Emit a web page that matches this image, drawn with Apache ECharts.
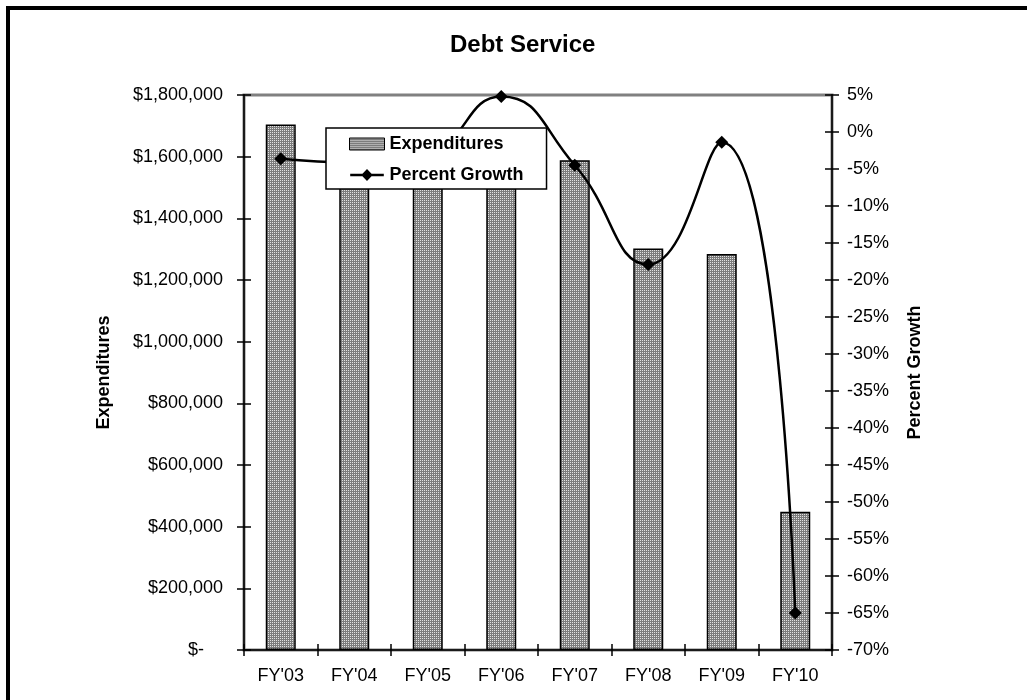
<!DOCTYPE html>
<html>
<head>
<meta charset="utf-8">
<script src="https://cdn.jsdelivr.net/npm/echarts@6/dist/echarts.min.js"></script>
<style>
html,body{margin:0;padding:0;background:#fff;}
#chart{width:1027px;height:700px;}
</style>
</head>
<body>
<div id="chart"></div>
<script>
const categories = ["FY'03", "FY'04", "FY'05", "FY'06", "FY'07", "FY'08", "FY'09", "FY'10"];
const expenditures = [1704000, 1634000, 1587000, 1663000, 1588000, 1302000, 1284000, 448000];
const percentGrowth = [-3.6, -4.1, -2.9, 4.8, -4.5, -17.9, -1.4, -65.0];
const leftAxisRange = [0, 1800000, 200000];
const rightAxisRange = [-70, 5, 5];

const FONT = "'Liberation Sans', Arial, sans-serif";

function makePattern() {
  const c = document.createElement('canvas');
  c.width = 2; c.height = 2;
  const g = c.getContext('2d');
  g.fillStyle = '#7c7c7c';
  g.fillRect(0, 0, 2, 2);
  g.fillStyle = '#e2e2e2';
  g.fillRect(0, 0, 1, 1);
  return c;
}
const pattern = { image: makePattern(), repeat: 'repeat' };

function moneyFmt(v) {
  if (v === 0) return '{z|$-}';
  return '$' + v.toLocaleString('en-US');
}

const chart = echarts.init(document.getElementById('chart'), null, { renderer: 'canvas' });

const tickStyle = { color: '#000', width: 1.5 };
const hiddenLine = { show: true, onZero: false, lineStyle: { color: 'rgba(0,0,0,0)', width: 1 } };
const lineIcon = 'path://M0 5L35 5L35 7.5L0 7.5Z M17.5 0L23.5 6.25L17.5 12.5L11.5 6.25Z';

const option = {
  backgroundColor: '#fff',
  animation: false,
  textStyle: { fontFamily: FONT },
  title: {
    text: 'Debt Service',
    left: 445,
    top: 28,
    textStyle: { fontSize: 24, fontWeight: 'bold', color: '#000', fontFamily: FONT }
  },
  graphic: [{
    type: 'rect',
    shape: { x: 8, y: 8, width: 1100, height: 800 },
    style: { fill: 'none', stroke: '#000', lineWidth: 4 },
    z: 100
  }],
  grid: {
    left: 244, right: 195, top: 95, bottom: 50,
    show: true, borderColor: '#808080', borderWidth: 3, backgroundColor: '#fff'
  },
  legend: {
    data: [
      { name: 'Expenditures', icon: 'rect', itemStyle: { color: pattern, borderColor: '#000', borderWidth: 1 } },
      { name: 'Percent Growth', icon: lineIcon, itemStyle: { color: '#000', borderWidth: 0 } }
    ],
    orient: 'vertical',
    left: 326, top: 128,
    itemWidth: 35, itemHeight: 12, itemGap: 11,
    backgroundColor: '#fff', borderColor: '#000', borderWidth: 1.5,
    padding: [6, 23, 4, 23],
    textStyle: { fontSize: 18, fontWeight: 'bold', color: '#000', fontFamily: FONT, lineHeight: 20 }
  },
  xAxis: [{
    type: 'category', data: categories, position: 'bottom',
    axisLine: { onZero: false, lineStyle: { color: '#1a1a1a', width: 2 } },
    axisTick: { show: true, length: 6, lineStyle: tickStyle },
    axisLabel: { margin: 17, fontSize: 18, color: '#000', fontFamily: FONT },
    splitLine: { show: false }
  }, {
    type: 'category', data: categories, position: 'bottom', offset: -6,
    axisLine: hiddenLine,
    axisTick: { show: true, length: 6, lineStyle: tickStyle },
    axisLabel: { show: false },
    splitLine: { show: false }
  }],
  yAxis: [{
    type: 'value', position: 'left',
    min: leftAxisRange[0], max: leftAxisRange[1], interval: leftAxisRange[2],
    name: 'Expenditures', nameLocation: 'middle', nameRotate: 90, nameGap: 131,
    nameTextStyle: { fontSize: 18, fontWeight: 'bold', color: '#000', fontFamily: FONT },
    axisLine: { show: true, onZero: false, lineStyle: { color: '#1a1a1a', width: 2 } },
    axisTick: { show: true, length: 7, lineStyle: tickStyle },
    axisLabel: {
      margin: 21, fontSize: 18, color: '#000', fontFamily: FONT, formatter: moneyFmt,
      rich: { z: { fontSize: 18, color: '#000', fontFamily: FONT, padding: [0, 19, 0, 0] } }
    },
    splitLine: { show: false }
  }, {
    type: 'value', position: 'right',
    min: rightAxisRange[0], max: rightAxisRange[1], interval: rightAxisRange[2],
    name: 'Percent Growth', nameLocation: 'middle', nameRotate: 90, nameGap: 74,
    nameTextStyle: { fontSize: 18, fontWeight: 'bold', color: '#000', fontFamily: FONT },
    axisLine: { show: true, onZero: false, lineStyle: { color: '#1a1a1a', width: 2 } },
    axisTick: { show: true, length: 7, lineStyle: tickStyle },
    axisLabel: { margin: 15, fontSize: 18, color: '#000', fontFamily: FONT, formatter: v => v + '%' },
    splitLine: { show: false }
  }, {
    type: 'value', position: 'left', offset: -7,
    min: leftAxisRange[0], max: leftAxisRange[1], interval: leftAxisRange[2],
    axisLine: hiddenLine,
    axisTick: { show: true, length: 7, lineStyle: tickStyle },
    axisLabel: { show: false },
    splitLine: { show: false }
  }, {
    type: 'value', position: 'right', offset: -7,
    min: rightAxisRange[0], max: rightAxisRange[1], interval: rightAxisRange[2],
    axisLine: hiddenLine,
    axisTick: { show: true, length: 7, lineStyle: tickStyle },
    axisLabel: { show: false },
    splitLine: { show: false }
  }],
  series: [{
    name: 'Expenditures',
    type: 'bar',
    xAxisIndex: 0, yAxisIndex: 0,
    data: expenditures,
    barWidth: 30,
    itemStyle: { color: pattern, borderColor: '#000', borderWidth: 1.5 },
    z: 2
  }, {
    name: 'Percent Growth',
    type: 'line',
    xAxisIndex: 0, yAxisIndex: 1,
    data: percentGrowth,
    smooth: 0.5,
    symbol: 'diamond', symbolSize: 13,
    itemStyle: { color: '#000' },
    lineStyle: { color: '#000', width: 2.5 },
    z: 3
  }]
};
chart.setOption(option);
</script>
</body>
</html>
